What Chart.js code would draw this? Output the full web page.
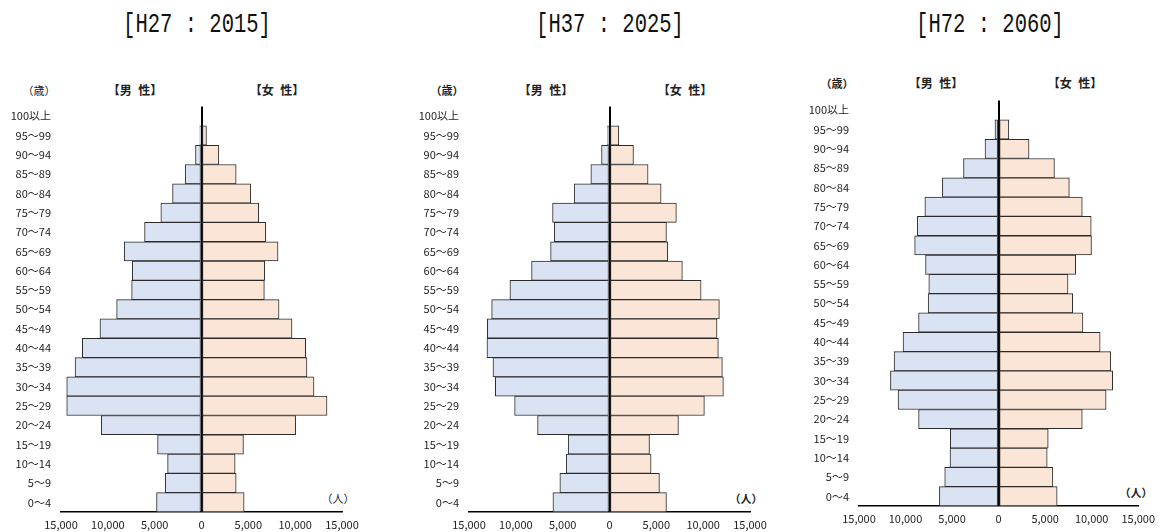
<!DOCTYPE html>
<html>
<head>
<meta charset="utf-8">
<script src="https://cdn.jsdelivr.net/npm/chart.js@4.4.1/dist/chart.umd.min.js"></script>
<style>
body { margin: 0; width: 1161px; height: 532px; position: relative; overflow: hidden; background: #fff;
       font-family: "Noto Sans CJK JP", sans-serif; color: #222; }
.title { position: absolute; font-family: "Liberation Mono", monospace; font-size: 27px;
         white-space: pre; transform: translate(-50%, -50%) scaleX(0.76); color: #111; }
.lbl { position: absolute; font-size: 11px; white-space: pre; transform: translate(-50%, -50%); }
.sex { font-size: 12px; font-weight: bold; word-spacing: 4px; }
canvas { position: absolute; }
</style>
</head>
<body>
<div class="title" style="left:197px; top:25px">[H27 : 2015]</div>
<div class="title" style="left:610px; top:25px">[H37 : 2025]</div>
<div class="title" style="left:990px; top:25px">[H72 : 2060]</div>

<div class="lbl" style="left:39px; top:90px">（歳）</div>
<div class="lbl sex" style="left:135px; top:89px">【男 性】</div>
<div class="lbl sex" style="left:277px; top:89px">【女 性】</div>
<div class="lbl" style="left:338px; top:498px">（人）</div>

<div class="lbl" style="left:447px; top:90px; font-weight:bold">（歳）</div>
<div class="lbl sex" style="left:546px; top:89px">【男 性】</div>
<div class="lbl sex" style="left:685px; top:89px">【女 性】</div>
<div class="lbl" style="left:746px; top:498px; font-weight:bold">（人）</div>

<div class="lbl" style="left:837px; top:83px; font-weight:bold">（歳）</div>
<div class="lbl sex" style="left:936px; top:82px">【男 性】</div>
<div class="lbl sex" style="left:1075px; top:82px">【女 性】</div>
<div class="lbl" style="left:1136px; top:492px; font-weight:bold">（人）</div>

<canvas id="chart2015" width="390" height="442" style="left:0px; top:90px"></canvas>
<canvas id="chart2025" width="390" height="442" style="left:408px; top:90px"></canvas>
<canvas id="chart2060" width="363" height="442" style="left:798px; top:84px"></canvas>

<script>
// age groups, top of the pyramid first
const ageLabels = ['100以上', '95～99', '90～94', '85～89', '80～84', '75～79', '70～74', '65～69', '60～64',
  '55～59', '50～54', '45～49', '40～44', '35～39', '30～34', '25～29', '20～24', '15～19', '10～14', '5～9', '0～4'];

// population (人)
const male2015 = [0, 180, 640, 1740, 3090, 4340, 6080, 8250, 7390, 7460, 9060, 10840, 12720, 13500, 14390, 14390, 10700, 4690, 3620, 3870, 4800];
const female2015 = [0, 530, 1850, 3700, 5260, 6110, 6860, 8170, 6750, 6710, 8280, 9660, 11120, 11260, 12010, 13400, 10050, 4480, 3590, 3700, 4550];

const male2025 = [0, 213, 850, 1990, 3770, 6080, 5900, 6290, 8320, 10630, 12580, 13040, 13080, 12440, 12190, 10130, 7680, 4410, 4620, 5300, 6040];
const female2025 = [0, 995, 2560, 4120, 5510, 7140, 6080, 6220, 7780, 9780, 11730, 11480, 11620, 12050, 12160, 10130, 7360, 4270, 4440, 5330, 6080];

const male2060 = [0, 390, 1460, 3770, 6040, 7920, 8740, 9020, 7850, 7500, 7570, 8600, 10270, 11230, 11620, 10800, 8600, 5190, 5220, 5790, 6360];
const female2060 = [0, 1100, 3270, 6000, 7600, 8990, 9950, 9980, 8280, 7460, 7960, 9060, 10910, 12050, 12260, 11550, 8990, 5330, 5220, 5830, 6290];

const axisMax = 15000;
const axisStep = 5000;

const tickFont = { family: '"Noto Sans CJK JP", sans-serif', size: 11 };

function makePyramid(id, male, female, padRight, padTop) {
    return new Chart(document.getElementById(id), {
        type: 'bar',
        data: {
            labels: ageLabels,
            datasets: [
                { label: '男性', data: male.map(v => -v), backgroundColor: '#dae3f3',
                  borderColor: '#2b2b2b', borderWidth: 1, borderSkipped: false },
                { label: '女性', data: female, backgroundColor: '#fbe5d6',
                  borderColor: '#2b2b2b', borderWidth: 1, borderSkipped: false }
            ]
        },
        options: {
            indexAxis: 'y',
            responsive: false,
            animation: false,
            barPercentage: 1,
            categoryPercentage: 1,
            layout: { padding: { top: padTop, right: padRight, left: 0, bottom: 0 } },
            plugins: { legend: { display: false }, tooltip: { enabled: false } },
            scales: {
                x: {
                    stacked: true, min: -axisMax, max: axisMax, z: 1,
                    ticks: { stepSize: axisStep, padding: 6, color: '#222', font: tickFont, maxRotation: 0,
                             callback: v => Math.abs(v).toLocaleString('en-US') },
                    grid: { drawTicks: false, lineWidth: 2,
                            color: c => (c.tick && c.tick.value === 0) ? '#000' : 'rgba(0,0,0,0)' },
                    border: { display: true, color: '#000', width: 1.5 },
                    afterFit: s => { s.height = 20; }
                },
                y: {
                    stacked: true,
                    grid: { display: false, drawTicks: false },
                    border: { display: false },
                    ticks: { padding: 10, color: '#222', font: tickFont, autoSkip: false },
                    afterFit: s => { s.width = 61; }
                }
            }
        }
    });
}

makePyramid('chart2015', male2015, female2015, 48, 7);
makePyramid('chart2025', male2025, female2025, 48, 6);
makePyramid('chart2060', male2060, female2060, 21, 7);
</script>
</body>
</html>
